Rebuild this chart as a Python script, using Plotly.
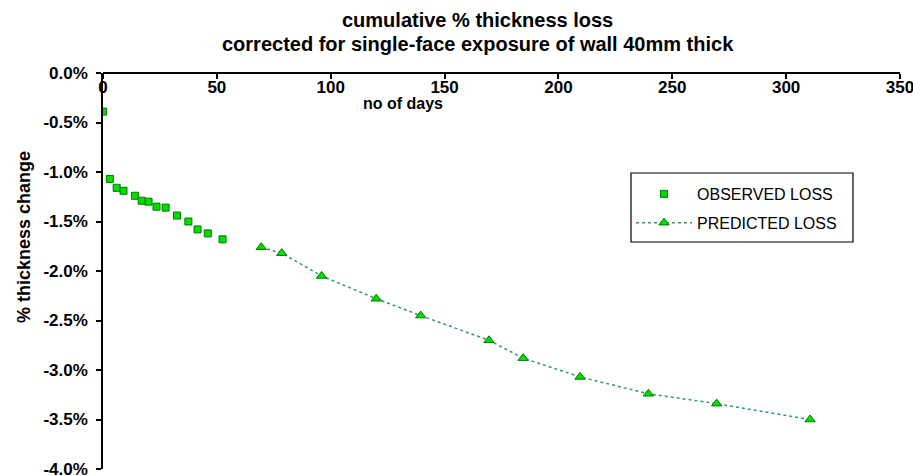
import plotly.graph_objects as go

# ---- data ----
obs_days = [0, 3, 6, 9, 14, 17, 20, 23.5, 27.5, 32.5, 37.5, 41.5, 46, 52.5]
obs_loss = [-0.39, -1.07, -1.16, -1.19, -1.24, -1.29, -1.30, -1.35, -1.36, -1.44, -1.50, -1.58, -1.62, -1.68]

pred_days = [69.5, 78.5, 96, 120, 139.5, 169.5, 184.5, 209.5, 239.5, 269.5, 310.5]
pred_loss = [-1.76, -1.82, -2.05, -2.28, -2.45, -2.70, -2.88, -3.07, -3.24, -3.34, -3.50]

x_ticks = [0, 50, 100, 150, 200, 250, 300, 350]
y_ticks = [0.0, -0.5, -1.0, -1.5, -2.0, -2.5, -3.0, -3.5, -4.0]
y_tick_labels = ["0.0%", "-0.5%", "-1.0%", "-1.5%", "-2.0%", "-2.5%", "-3.0%", "-3.5%", "-4.0%"]

FILL = "#00DD00"
EDGE = "#007A00"
LINE = "#339966"
FONT = "Liberation Sans, Arial, sans-serif"

fig = go.Figure()
fig.add_trace(go.Scatter(
    x=obs_days, y=obs_loss, mode="markers", name="OBSERVED LOSS\u00a0\u00a0",
    legendgroup="obs",
    marker=dict(symbol="square", size=7, color=FILL, line=dict(color=EDGE, width=1)),
))
fig.add_trace(go.Scatter(
    x=pred_days, y=pred_loss, mode="lines+markers", name="PREDICTED LOSS",
    legendgroup="pred",
    line=dict(color=LINE, width=1.5, dash="3px,3px"),
    marker=dict(symbol="triangle-up", size=9, color=FILL, line=dict(color=EDGE, width=1)),
))

fig.update_layout(
    width=913, height=476,
    margin=dict(l=103, r=13, t=73, b=7),
    paper_bgcolor="white", plot_bgcolor="white",
    font=dict(family=FONT, color="black"),
    showlegend=True,
    legend=dict(
        x=0.6625, y=0.7374, xanchor="left", yanchor="top",
        bgcolor="rgba(0,0,0,0)", borderwidth=0,
        font=dict(family=FONT, size=16, color="black"),
        itemwidth=56, traceorder="grouped", tracegroupgap=5,
    ),
    shapes=[
        dict(type="rect", xref="paper", yref="paper",
             x0=0.6625, x1=0.941, y0=0.5732, y1=0.7475,
             line=dict(color="black", width=1.2), fillcolor="white", layer="below"),
    ],
    annotations=[
        dict(text="<b>cumulative % thickness loss</b>", xref="paper", yref="paper",
             x=0.4705, y=1, yshift=53, xanchor="center", yanchor="middle",
             showarrow=False, font=dict(family=FONT, size=20, color="black")),
        dict(text="<b>corrected for single-face exposure of wall 40mm thick</b>", xref="paper", yref="paper",
             x=0.4705, y=1, yshift=29, xanchor="center", yanchor="middle",
             showarrow=False, font=dict(family=FONT, size=20, color="black")),
        dict(text="<b>no of days</b>", xref="paper", yref="paper",
             x=0.376, y=0.924, xanchor="center", yanchor="middle",
             showarrow=False, font=dict(family=FONT, size=16, color="black")),
        dict(text="<b>% thickness change</b>", xref="paper", yref="paper",
             x=-0.0991, y=0.586, xanchor="center", yanchor="middle", textangle=-90,
             showarrow=False, font=dict(family=FONT, size=18, color="black")),
    ],
)

fig.update_xaxes(
    range=[0, 350], side="bottom", anchor="free", position=1,
    showgrid=False, zeroline=False, automargin=False,
    showline=True, linecolor="black", linewidth=1.5,
    ticks="outside", ticklen=5, tickcolor="black", tickwidth=1.5,
    ticklabelstandoff=-6, ticklabeloverflow="allow",
    tickvals=x_ticks, ticktext=[str(v) for v in x_ticks],
    tickfont=dict(family=FONT, size=17, color="black", weight="bold"),
)
fig.update_yaxes(
    range=[-4, 0], showgrid=False, zeroline=False, automargin=False,
    showline=True, linecolor="black", linewidth=1.5,
    ticks="outside", ticklen=5, tickcolor="black", tickwidth=1.5,
    ticklabelstandoff=5, ticklabeloverflow="allow",
    tickvals=y_ticks, ticktext=y_tick_labels,
    tickfont=dict(family=FONT, size=17, color="black", weight="bold"),
)

fig.write_html("out.html", config={"displayModeBar": False},
               post_script="document.body.style.margin='0';")
